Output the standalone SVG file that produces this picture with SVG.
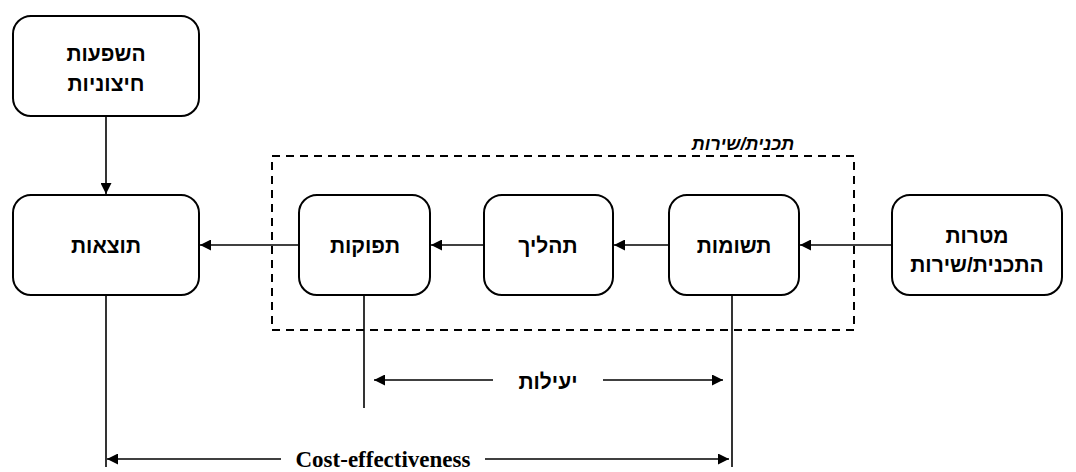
<svg xmlns="http://www.w3.org/2000/svg" width="1076" height="472" viewBox="0 0 1076 472">
  <style>
    .box { fill: #ffffff; stroke: #000000; stroke-width: 2; }
    .lbl { font-family: "Liberation Sans", "DejaVu Sans", sans-serif; font-weight: bold; font-size: 21px; fill: #000000; text-anchor: middle; }
    .ttl { font-family: "Liberation Sans", "DejaVu Sans", sans-serif; font-weight: bold; font-style: italic; font-size: 18px; fill: #000000; text-anchor: middle; }
    .en { font-family: "Liberation Serif", "Times New Roman", serif; font-weight: bold; font-size: 23px; fill: #000000; text-anchor: middle; }
    .ln { stroke: #000000; stroke-width: 1.6; fill: none; }
    .frame { fill: none; stroke: #000000; stroke-width: 2; stroke-dasharray: 8 6; }
  </style>
  <defs>
    <marker id="head" viewBox="0 0 10 10" refX="10" refY="5" markerWidth="11" markerHeight="11" markerUnits="userSpaceOnUse" orient="auto">
      <path d="M0,0 L10,5 L0,10 z" fill="#000000"/>
    </marker>
  </defs>

  <!-- program / service boundary -->
  <g id="program-frame">
    <rect class="frame" x="272" y="156" width="582" height="174"/>
    <text class="ttl" x="743" y="150" direction="rtl">תכנית/שירות</text>
  </g>

  <!-- connectors -->
  <g id="connectors">
    <line class="ln" x1="106" y1="116" x2="106" y2="194" marker-end="url(#head)"/>
    <line class="ln" x1="299" y1="245" x2="200" y2="245" marker-end="url(#head)"/>
    <line class="ln" x1="484" y1="245" x2="431" y2="245" marker-end="url(#head)"/>
    <line class="ln" x1="669" y1="245" x2="614" y2="245" marker-end="url(#head)"/>
    <line class="ln" x1="892" y1="245" x2="800" y2="245" marker-end="url(#head)"/>

    <line class="ln" x1="106" y1="295" x2="106" y2="467"/>
    <line class="ln" x1="364" y1="295" x2="364" y2="408"/>
    <line class="ln" x1="732" y1="295" x2="732" y2="467"/>

    <line class="ln" x1="493" y1="380" x2="374" y2="380" marker-end="url(#head)"/>
    <line class="ln" x1="603" y1="380" x2="723" y2="380" marker-end="url(#head)"/>

    <line class="ln" x1="281" y1="459" x2="107" y2="459" marker-end="url(#head)"/>
    <line class="ln" x1="485" y1="459" x2="729" y2="459" marker-end="url(#head)"/>
  </g>

  <g id="n-external">
    <rect class="box" x="13" y="16" width="186" height="100" rx="18"/>
    <text class="lbl" x="106" y="61">השפעות</text>
    <text class="lbl" x="106" y="91">חיצוניות</text>
  </g>

  <g id="n-outcomes">
    <rect class="box" x="13" y="195" width="186" height="100" rx="18"/>
    <text class="lbl" x="106" y="253">תוצאות</text>
  </g>

  <g id="n-outputs">
    <rect class="box" x="299" y="195" width="131" height="100" rx="18"/>
    <text class="lbl" x="365" y="253">תפוקות</text>
  </g>

  <g id="n-process">
    <rect class="box" x="484" y="195" width="129" height="100" rx="18"/>
    <text class="lbl" x="548" y="253">תהליך</text>
  </g>

  <g id="n-inputs">
    <rect class="box" x="669" y="195" width="130" height="100" rx="18"/>
    <text class="lbl" x="734" y="253">תשומות</text>
  </g>

  <g id="n-goals">
    <rect class="box" x="892" y="195" width="170" height="100" rx="18"/>
    <text class="lbl" x="977" y="243">מטרות</text>
    <text class="lbl" x="977" y="272">התכנית/שירות</text>
  </g>

  <g id="measures">
    <text class="lbl" x="548" y="389">יעילות</text>
    <text class="en" x="383" y="467">Cost-effectiveness</text>
  </g>
</svg>
